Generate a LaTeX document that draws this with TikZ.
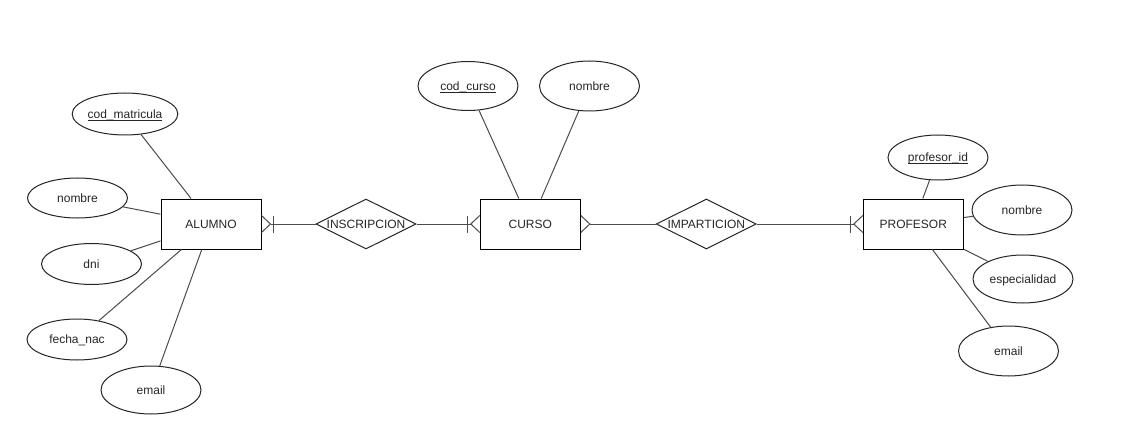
\documentclass[tikz,border=0pt]{standalone}
\usepackage{fontspec}
\setmainfont{Liberation Sans}
\usetikzlibrary{shapes.geometric}

% underlined key attribute
\newcommand\keyattr[1]{\setbox0\hbox{#1}\rlap{\rule[-2.2pt]{\wd0}{0.8pt}}\box0}

\begin{document}
\begin{tikzpicture}[x=1pt,y=-1pt,
  txt/.style={font=\fontsize{12}{14}\selectfont, text=black!85,
              text height=11.1pt, text depth=2.5pt},
  entity/.style={txt, draw=black, line width=1pt, rectangle,
                 minimum width=100pt, minimum height=50pt, inner sep=0pt},
  attr/.style={txt, draw=black!85, line width=1pt, ellipse,
               minimum width=100pt, inner sep=0pt},
  relation/.style={draw=black!85, line width=1pt, diamond, aspect=2,
                   minimum width=100pt, minimum height=50pt, inner sep=0pt,
                   label={[txt, inner sep=0pt]center:#1}},
  conn/.style={draw=black!70, line width=1pt},
  crowfoot/.pic={\draw[conn] (0,8.5) -- (9,0) -- (0,-8.5);},
  onebar/.pic={\draw[conn] (12,-8.5) -- (12,8.5);}
]
\useasboundingbox[fill=white] (0,0) rectangle (1122,441);

% entities
\node[entity] (alumno)   at (211,224)   {ALUMNO};
\node[entity] (curso)    at (530.3,224) {CURSO};
\node[entity] (profesor) at (913.3,224) {PROFESOR};

% relationships
\node[relation=INSCRIPCION] (insc)   at (366,224)   {};
\node[relation=IMPARTICION] (impart) at (706.3,224) {};

% ALUMNO attributes
\node[attr, minimum height=42pt] (acod)   at (125,114)   {\keyattr{cod\_matricula}};
\node[attr, minimum height=40pt] (anom)   at (77.5,198)  {nombre};
\node[attr, minimum height=41pt] (adni)   at (91.5,264)  {dni};
\node[attr, minimum height=41pt] (afec)   at (77,339.5)  {fecha\_nac};
\node[attr, minimum height=48pt] (aemail) at (151,390)   {email};

% CURSO attributes
\node[attr, minimum height=49pt] (ccod) at (468,86)   {\keyattr{cod\_curso}};
\node[attr, minimum height=50pt] (cnom) at (589.5,86) {nombre};

% PROFESOR attributes
\node[attr, minimum height=45pt] (pid)    at (938,157.5)  {\keyattr{profesor\_id}};
\node[attr, minimum height=50pt] (pnom)   at (1022,210)   {nombre};
\node[attr, minimum height=48pt] (pesp)   at (1023,279)   {especialidad};
\node[attr, minimum height=50pt] (pemail) at (1008.5,351) {email};

% attribute links
\foreach \a in {acod,anom,adni,afec,aemail} \draw[conn] (\a) -- (alumno);
\foreach \a in {ccod,cnom} \draw[conn] (\a) -- (curso);
\foreach \a in {pid,pnom,pesp,pemail} \draw[conn] (\a) -- (profesor);

% relationship links
\draw[conn, shorten <=9pt] (alumno.east) -- (insc.west);
\draw[conn, shorten >=9pt] (insc.east) -- (curso.west);
\draw[conn, shorten <=9pt] (curso.east) -- (impart.west);
\draw[conn, shorten >=9pt] (impart.east) -- (profesor.west);

% cardinality marks
\pic at (alumno.east) {crowfoot};
\pic at (alumno.east) {onebar};
\pic[rotate=180] at (curso.west) {crowfoot};
\pic[rotate=180] at (curso.west) {onebar};
\pic at (curso.east) {crowfoot};
\pic[rotate=180] at (profesor.west) {crowfoot};
\pic[rotate=180] at (profesor.west) {onebar};
\end{tikzpicture}
\end{document}
